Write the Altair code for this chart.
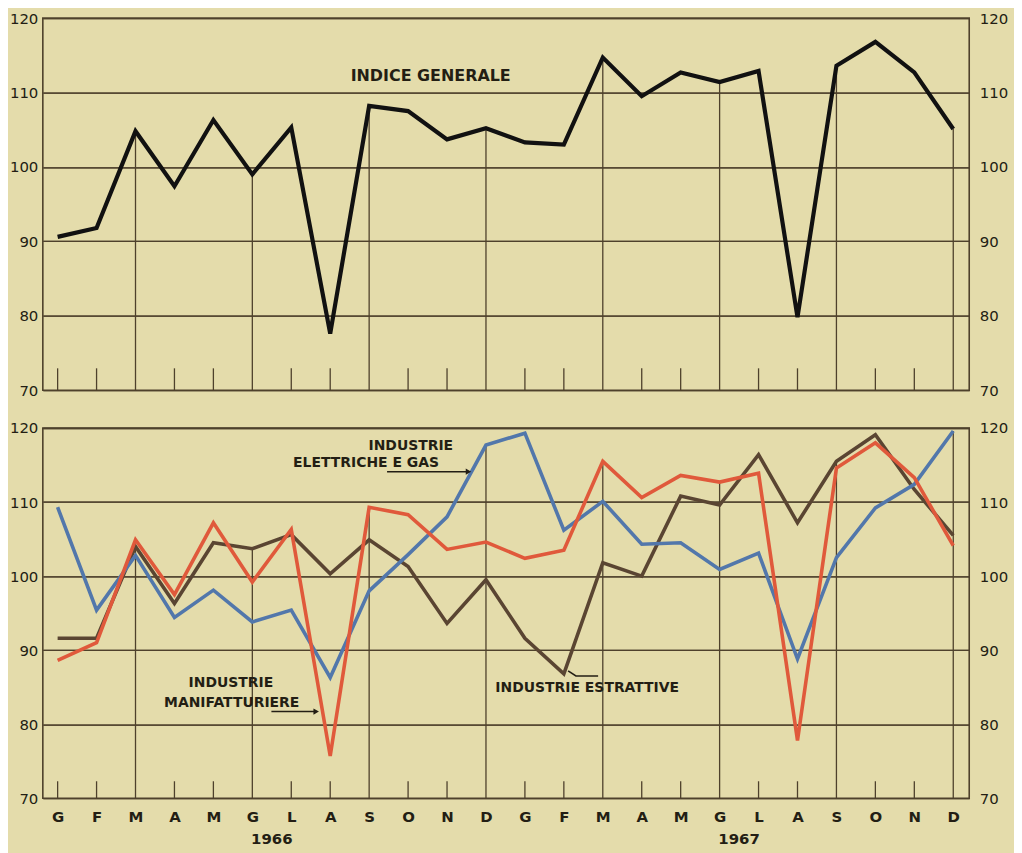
import altair as alt
import pandas as pd

# ---------------- data ----------------
months = ["G", "F", "M", "A", "M", "G", "L", "A", "S", "O", "N", "D"]
years = ["1966", "1967"]

generale = [90.6, 91.8, 104.8, 97.4, 106.3, 99.0, 105.3, 77.6, 108.2, 107.5, 103.7, 105.2,
            103.3, 103.0, 114.7, 109.5, 112.7, 111.4, 112.9, 79.8, 113.6, 116.8, 112.7, 105.1]
elettriche = [109.3, 95.4, 102.8, 94.4, 98.1, 93.8, 95.4, 86.3, 98.0, 102.9, 108.0, 117.7,
              119.3, 106.2, 110.1, 104.3, 104.5, 100.9, 103.1, 88.8, 102.5, 109.2, 112.4, 119.6]
manifatturiere = [88.6, 91.0, 104.9, 97.5, 107.2, 99.2, 106.3, 75.7, 109.3, 108.3, 103.6, 104.6,
                  102.4, 103.5, 115.5, 110.6, 113.6, 112.7, 113.9, 77.8, 114.6, 118.0, 113.3, 104.1]
estrattive = [91.6, 91.6, 104.0, 96.3, 104.5, 103.7, 105.6, 100.3, 104.9, 101.3, 93.6, 99.5,
              91.6, 86.8, 101.8, 100.0, 110.8, 109.6, 116.4, 107.2, 115.5, 119.1, 111.7, 105.5]

series_names = ["estrattive", "elettriche", "manifatturiere"]
series_colors = ["#5a4532", "#5277ab", "#e0593b"]

y_ticks = [70, 80, 90, 100, 110, 120]

# annotations (text, month index, value)
top_labels = [("INDICE GENERALE", 9.58, 112.2)]
bottom_labels = [
    ("INDUSTRIE", 9.07, 117.6),
    ("ELETTRICHE E GAS", 7.92, 115.3),
    ("INDUSTRIE", 4.45, 85.5),
    ("MANIFATTURIERE", 4.47, 82.9),
    ("INDUSTRIE ESTRATTIVE", 13.6, 84.9),
]
# arrow / leader segments: (group, index, value)
pointers = [
    ("a1", 8.46, 114.1), ("a1", 10.55, 114.1),
    ("a2", 5.49, 81.7), ("a2", 6.64, 81.7),
    ("a3", 13.11, 87.2), ("a3", 13.31, 86.5), ("a3", 13.88, 86.5),
]
arrow_heads = [(10.55, 114.1), (6.64, 81.7)]

# ---------------- style ----------------
BG = "#e4dcab"
GRID = "#4e412c"
INK = "#231e14"
FONT = "DejaVu Sans"
W = 931
H_TOP = 374
H_BOT = 372

n = len(generale)
idx = list(range(n))
quarter_idx = [i for i in idx if i % 3 == 2]
minor_idx = [i for i in idx if i % 3 != 2]

xscale = alt.Scale(domain=[-0.38, 23.41], nice=False, zero=False)
yscale = alt.Scale(domain=[70, 120], nice=False, zero=False)

month_expr = "[" + ",".join("'%s'" % m for m in months) + "][datum.value % 12]"

bottom_x_axis = alt.Axis(values=idx, labelExpr=month_expr, ticks=False, domain=False,
                         grid=False, labelPadding=11, labelFontSize=15, labelFont=FONT,
                         labelFontWeight="bold", labelColor=INK, title=None)


def y_axis(orient, pad):
    return alt.Axis(orient=orient, values=y_ticks, grid=True, gridColor=GRID,
                    gridWidth=1.3, gridOpacity=1, domain=False, ticks=False,
                    labelPadding=pad, labelFontSize=15, labelFont=FONT,
                    labelColor=INK, title=None)


def panel(height, vmax_by_idx, tick_len, xaxis, content):
    X = lambda: alt.X("i:Q", scale=xscale, axis=xaxis)
    Y = lambda: alt.Y("v:Q", scale=yscale, axis=None)
    gdf = pd.DataFrame({"i": quarter_idx, "v": [vmax_by_idx[i] for i in quarter_idx]})
    vgrid = alt.Chart(gdf).mark_rule(color=GRID, strokeWidth=1.3).encode(
        x=X(), y=Y(), y2=alt.value(height))
    mdf = pd.DataFrame({"i": minor_idx})
    minor = alt.Chart(mdf).mark_rule(color=GRID, strokeWidth=1.3).encode(
        x=X(), y=alt.value(height), y2=alt.value(height - tick_len))
    ydf = pd.DataFrame({"y": y_ticks})
    left = alt.Chart(ydf).mark_point(opacity=0).encode(
        y=alt.Y("y:Q", scale=yscale, axis=y_axis("left", 5)))
    right = alt.Chart(ydf).mark_point(opacity=0).encode(
        y=alt.Y("y:Q", scale=yscale, axis=y_axis("right", 10)))
    layers = [left, right, vgrid, minor]
    for kind, payload in content:
        if kind == "line":
            df, col, sw = payload
            layers.append(alt.Chart(df).mark_line(color=col, strokeWidth=sw).encode(x=X(), y=Y()))
        elif kind == "text":
            labels, size = payload
            tdf = pd.DataFrame(labels, columns=["t", "i", "v"])
            layers.append(alt.Chart(tdf).mark_text(
                font=FONT, fontSize=size, fontWeight="bold", color=INK,
                align="center", baseline="middle").encode(x=X(), y=Y(), text="t:N"))
        elif kind == "years":
            ydf2 = pd.DataFrame({"t": years, "i": [12 * k + 5.5 for k in range(len(years))]})
            layers.append(alt.Chart(ydf2).mark_text(
                font=FONT, fontSize=15, fontWeight="bold", color=INK,
                baseline="middle").encode(
                x=X(), y=alt.value(height + 41), text="t:N"))
        elif kind == "pointers":
            pdf = pd.DataFrame(pointers, columns=["g", "i", "v"])
            pdf["k"] = range(len(pdf))
            layers.append(alt.Chart(pdf).mark_line(color=INK, strokeWidth=1.6).encode(
                x=X(), y=Y(), detail="g:N", order="k:Q"))
            hdf = pd.DataFrame(arrow_heads, columns=["i", "v"])
            layers.append(alt.Chart(hdf).mark_point(
                shape="triangle-right", filled=True, color=INK, size=40, opacity=1).encode(
                x=X(), y=Y()))
    return alt.layer(*layers).resolve_axis(y="independent").properties(width=W, height=height)


# ---------------- top panel ----------------
gdf = pd.DataFrame({"i": idx, "v": generale})
top = panel(H_TOP, generale, 22, None, [
    ("line", (gdf, "#111111", 4.2)),
    ("text", (top_labels, 16)),
])

# ---------------- bottom panel ----------------
values = {"estrattive": estrattive, "elettriche": elettriche, "manifatturiere": manifatturiere}
bmax = [max(estrattive[i], elettriche[i], manifatturiere[i]) for i in idx]
content = []
for name, col in zip(series_names, series_colors):
    content.append(("line", (pd.DataFrame({"i": idx, "v": values[name]}), col, 3.6)))
content += [("years", None), ("pointers", None), ("text", (bottom_labels, 14))]
bottom = panel(H_BOT, bmax, 17, bottom_x_axis, content)

chart = alt.vconcat(top, bottom, spacing=38, bounds="flush").properties(
    background=BG,
    padding={"left": 0, "top": 0, "right": 5, "bottom": 5},
).configure_view(stroke=GRID, strokeWidth=1.6)

chart.save("out.html", embed_options={"renderer": "svg", "actions": False})
